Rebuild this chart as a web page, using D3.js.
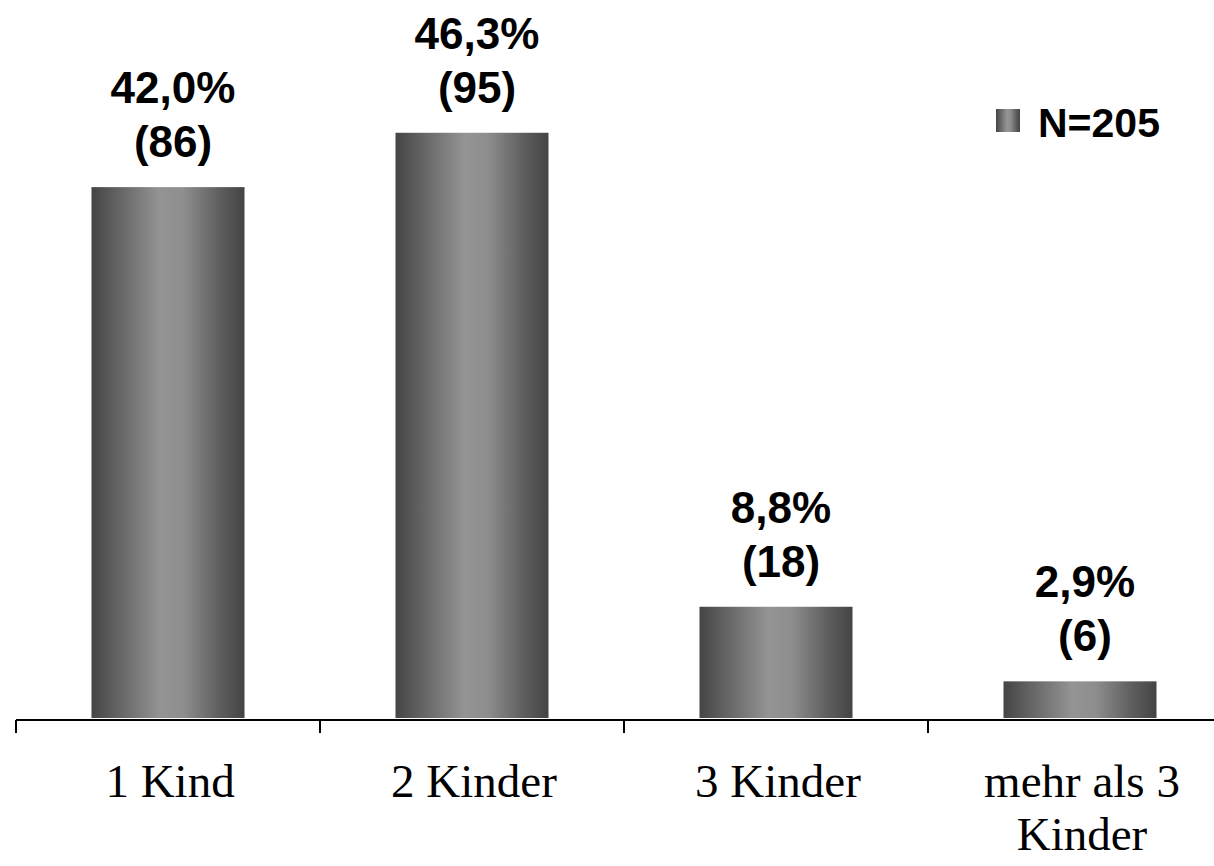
<!DOCTYPE html>
<html><head><meta charset="utf-8">
<script src="https://cdn.jsdelivr.net/npm/d3@7"></script>
<style>html,body{margin:0;padding:0;background:#fff;}svg{display:block;}</style>
</head><body>
<svg id="c" width="1214" height="866"></svg>
<script>
const categories = ["1 Kind", "2 Kinder", "3 Kinder", "mehr als 3|Kinder"];
const percents = [42.0, 46.3, 8.8, 2.9];
const counts = [86, 95, 18, 6];
const percentLabels = ["42,0%", "46,3%", "8,8%", "2,9%"];
const legendLabel = ["N=205"];

const svg = d3.select("#c");
const defs = svg.append("defs");
const grad = defs.append("linearGradient").attr("id","g").attr("x1","0").attr("x2","1").attr("y1","0").attr("y2","0");
[[0,"#444"],[0.12,"#5a5a5a"],[0.45,"#949494"],[0.6,"#8e8e8e"],[0.85,"#5c5c5c"],[1,"#444"]].forEach(([o,c])=>grad.append("stop").attr("offset",o).attr("stop-color",c));

const x = d3.scaleBand().domain(categories).range([16, 1232]).paddingInner(0).paddingOuter(0);
const y = d3.scaleLinear().domain([0, 50]).range([718, 86]);
const bw = 153;

svg.selectAll("rect.bar").data(percents).join("rect").attr("class","bar")
  .attr("x",(d,i)=>x(categories[i]) + x.bandwidth()/2 - bw/2)
  .attr("y",d=>y(d)).attr("width",bw).attr("height",d=>y(0)-y(d))
  .attr("fill","url(#g)");

// axis
const axisY = 720;
svg.append("line").attr("x1",16).attr("x2",1214).attr("y1",axisY).attr("y2",axisY).attr("stroke","#000").attr("stroke-width",2);
categories.forEach(c=>{
  const tx = x(c);
  svg.append("line").attr("x1",tx).attr("x2",tx).attr("y1",axisY).attr("y2",733).attr("stroke","#000").attr("stroke-width",2);
});

// category labels
categories.forEach(c=>{
  const lines = c.split("|");
  const cx = x(c)+x.bandwidth()/2 + 2;
  const t = svg.append("text").attr("x", cx).attr("y", 797)
    .attr("text-anchor","middle").attr("font-family","'Liberation Serif','Times New Roman',serif").attr("font-size",47).attr("fill","#000");
  lines.forEach((l,i)=>t.append("tspan").attr("x", cx).attr("dy", i===0?0:53).text(l));
});

// value labels
percents.forEach((p,i)=>{
  const cx = x(categories[i]) + x.bandwidth()/2 + 5;
  const top = y(p);
  const g = svg.append("text").attr("text-anchor","middle").attr("font-family","'Liberation Sans',Arial,sans-serif")
    .attr("font-weight","bold").attr("font-size",44).attr("fill","#000");
  g.append("tspan").attr("x",cx).attr("y",top-84).text(percentLabels[i]);
  g.append("tspan").attr("x",cx).attr("y",top-30).text("(" + counts[i] + ")");
});

// legend
svg.append("rect").attr("x",996).attr("y",109).attr("width",24).attr("height",23).attr("fill","url(#g)");
svg.append("text").attr("x",1038).attr("y",137).attr("font-family","'Liberation Sans',Arial,sans-serif")
  .attr("font-weight","bold").attr("font-size",41).attr("fill","#000").text(legendLabel[0]);
</script>
</body></html>
